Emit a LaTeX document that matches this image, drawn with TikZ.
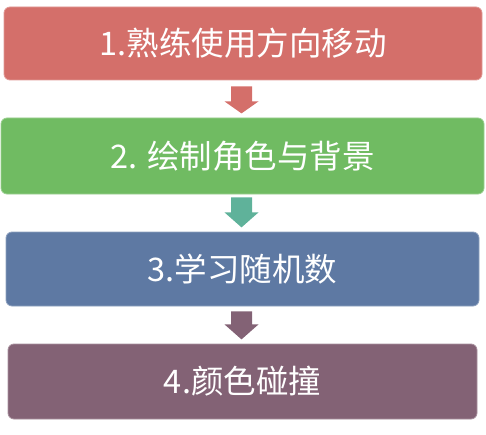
\documentclass[tikz,border=0pt]{standalone}
\usepackage{fontspec}
\newfontfamily\cjk{Noto Sans CJK SC}
\definecolor{cA}{HTML}{D46F6A}
\definecolor{cB}{HTML}{70BB62}
\definecolor{cC}{HTML}{5E79A3}
\definecolor{cD}{HTML}{836275}
\definecolor{cAr}{HTML}{5FB29A}
\tikzset{
  stepbox/.style={rectangle, rounded corners=6pt, draw=#1!70!white, line width=0.8pt, fill=#1, text=white, inner sep=0pt, font=\cjk\fontsize{32.5}{38}\selectfont},
  blockarrow/.style={fill=#1, draw=none}
}
\begin{document}
\begin{tikzpicture}[x=1pt,y=1pt]
\useasboundingbox (0,0) rectangle (486,434);
\node[stepbox=cA, minimum width=478pt, minimum height=73pt] (b1) at (243,390.5) {1.熟练使用方向移动};
\node[stepbox=cB, minimum width=483pt, minimum height=76pt] (b2) at (242.5,278) {2. 绘制角色与背景};
\node[stepbox=cC, minimum width=473pt, minimum height=74pt] (b3) at (242.5,165) {3.学习随机数};
\node[stepbox=cD, minimum width=469pt, minimum height=75pt] (b4) at (242.5,52.5) {4.颜色碰撞};
\fill[blockarrow=cA] (b1.south) ++(-12,-6) -- ++(21,0) -- ++(0,-15) -- ++(6.5,0) -- ++(-17,-12) -- ++(-17,12) -- ++(6.5,0) -- cycle;
\fill[blockarrow=cAr] (b2.south) ++(-11.5,-3) -- ++(21,0) -- ++(0,-15) -- ++(6.5,0) -- ++(-17,-15) -- ++(-17,15) -- ++(6.5,0) -- cycle;
\fill[blockarrow=cD] (b3.south) ++(-11.5,-5) -- ++(21,0) -- ++(0,-13) -- ++(6.5,0) -- ++(-17,-15) -- ++(-17,15) -- ++(6.5,0) -- cycle;
\end{tikzpicture}
\end{document}
